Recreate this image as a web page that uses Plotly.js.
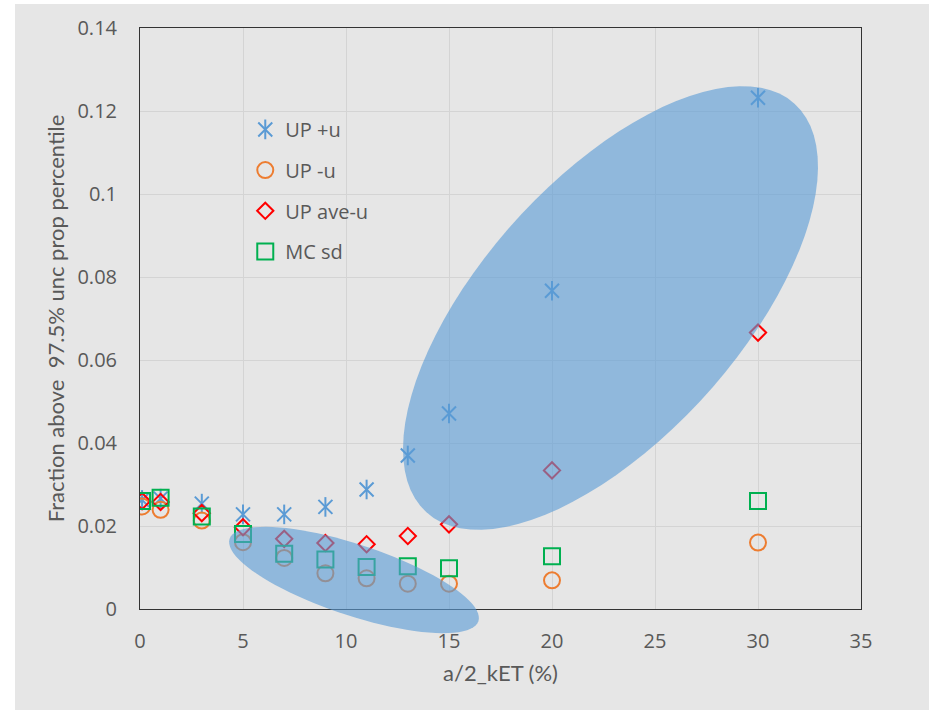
<!DOCTYPE html>
<html><head><meta charset="utf-8">
<script src="https://cdn.plot.ly/plotly-3.0.1.min.js"></script>
<style>html,body{margin:0;padding:0;background:#fff}</style>
</head><body><div id="chart" style="width:929px;height:710px"></div>
<script>
// ---- data ----
const xValues  = [0.1, 1, 3, 5, 7, 9, 11, 13, 15, 20, 30];
const upPlus   = [0.0263, 0.0266, 0.0254, 0.0228, 0.0228, 0.0246, 0.0288, 0.0370, 0.0471, 0.0767, 0.1232];
const upMinus  = [0.0247, 0.0239, 0.0213, 0.0161, 0.0123, 0.0086, 0.0074, 0.0061, 0.0061, 0.0069, 0.0160];
const upAve    = [0.0260, 0.0258, 0.0231, 0.0197, 0.0169, 0.0159, 0.0156, 0.0176, 0.0204, 0.0334, 0.0666];
const mcSd     = [0.0260, 0.0268, 0.0223, 0.0181, 0.0133, 0.0119, 0.0101, 0.0103, 0.0098, 0.0127, 0.0260];
const seriesNames = ['UP +u', 'UP -u', 'UP ave-u', 'MC sd'];
const xTickVals = [0, 5, 10, 15, 20, 25, 30, 35];
const xTickText = ['0', '5', '10', '15', '20', '25', '30', '35'];
const yTickVals = [0, 0.02, 0.04, 0.06, 0.08, 0.1, 0.12, 0.14];
const yTickText = ['0', '0.02', '0.04', '0.06', '0.08', '0.1', '0.12', '0.14'];

// ---- layout geometry ----
const W = 929, H = 710;
const M = {l: 140, r: 68, t: 28, b: 101};
const PW = W - M.l - M.r, PH = H - M.t - M.b;
function toPaper(px, py) { return [(px - M.l) / PW, (H - M.b - py) / PH]; }
// highlight ellipses (figure pixels: centre, semi-axes, tilt in degrees, screen orientation)
const ellipses = [
  {cx: 610.5, cy: 308, a: 275, b: 129, ang: -48},
  {cx: 354, cy: 580, a: 131, b: 35.5, ang: 18.3}
];
function ellipsePath(e) {
  const th = e.ang * Math.PI / 180, n = 90;
  let d = '';
  for (let i = 0; i < n; i++) {
    const t = 2 * Math.PI * i / n;
    const ex = e.a * Math.cos(t), ey = e.b * Math.sin(t);
    const px = e.cx + ex * Math.cos(th) - ey * Math.sin(th);
    const py = e.cy + ex * Math.sin(th) + ey * Math.cos(th);
    const p = toPaper(px, py);
    d += (i === 0 ? 'M' : 'L') + p[0].toFixed(5) + ',' + p[1].toFixed(5);
  }
  return d + 'Z';
}

const tickFont = {family: 'Open Sans, DejaVu Sans, sans-serif', size: 20, color: '#595959'};
const titleFont = {family: 'Lato, Open Sans, sans-serif', size: 22, color: '#595959'};

const starMarker = {size: 14, color: '#5B9BD5', line: {color: '#5B9BD5', width: 2}};
const traces = [
  {x: xValues, y: upPlus, name: seriesNames[0], mode: 'markers', legendgroup: 'g1',
   marker: Object.assign({symbol: 'x-thin-open'}, starMarker)},
  {x: xValues, y: upPlus, name: seriesNames[0], mode: 'markers', legend: 'legend2',
   marker: Object.assign({symbol: 'line-ns-open'}, starMarker)},
  {x: xValues, y: upMinus, name: seriesNames[1], mode: 'markers', legendgroup: 'g2',
   marker: {symbol: 'circle-open', size: 16, color: '#ED7D31', line: {color: '#ED7D31', width: 2}}},
  {x: xValues, y: upAve, name: seriesNames[2], mode: 'markers', legendgroup: 'g3',
   marker: {symbol: 'diamond-open', size: 12.5, color: '#FF0000', line: {color: '#FF0000', width: 2}}},
  {x: xValues, y: mcSd, name: seriesNames[3], mode: 'markers', legendgroup: 'g4',
   marker: {symbol: 'square-open', size: 16, color: '#00B050', line: {color: '#00B050', width: 2}}}
];

const legendPos = {x: 0.146, y: 0.859, xanchor: 'left', yanchor: 'top'};
const layout = {
  width: W, height: H, margin: M,
  paper_bgcolor: '#e6e6e6', plot_bgcolor: '#e6e6e6',
  showlegend: true,
  legend: Object.assign({font: {family: 'Open Sans, sans-serif', size: 20, color: '#595959'},
    bgcolor: 'rgba(0,0,0,0)', tracegroupgap: 11.7}, legendPos),
  legend2: Object.assign({font: {family: 'Open Sans, sans-serif', size: 20, color: 'rgba(0,0,0,0)'},
    bgcolor: 'rgba(0,0,0,0)'}, legendPos),
  xaxis: {range: [0, 35], tickvals: xTickVals, ticktext: xTickText, tickfont: tickFont,
    showgrid: true, gridcolor: '#d4d4d4', gridwidth: 1, zeroline: false,
    showline: true, mirror: true, linecolor: '#333333', linewidth: 1, ticks: '',
    ticklabelstandoff: 14,
    title: {text: 'a/2_kET (%)', font: titleFont, standoff: 12}},
  yaxis: {range: [0, 0.14], tickvals: yTickVals, ticktext: yTickText, tickfont: tickFont,
    showgrid: true, gridcolor: '#d4d4d4', gridwidth: 1, zeroline: false,
    showline: true, mirror: true, linecolor: '#333333', linewidth: 1, ticks: '',
    ticklabelstandoff: 18,
    title: {text: 'Fraction above  97.5% unc prop percentile', font: titleFont, standoff: 6}},
  shapes: [
    {type: 'rect', xref: 'paper', yref: 'paper', layer: 'below',
     x0: toPaper(0, 0)[0], x1: toPaper(15, 0)[0], y0: toPaper(0, H)[1], y1: toPaper(0, 0)[1],
     fillcolor: '#ffffff', line: {width: 0}},
    {type: 'rect', xref: 'paper', yref: 'paper', layer: 'below',
     x0: toPaper(0, 0)[0], x1: toPaper(W, 0)[0], y0: toPaper(0, 4)[1], y1: toPaper(0, 0)[1],
     fillcolor: '#ffffff', line: {width: 0}}
  ].concat(ellipses.map(e => ({type: 'path', xref: 'paper', yref: 'paper', layer: 'above',
     path: ellipsePath(e), fillcolor: '#5B9BD5', opacity: 0.62, line: {width: 0}})))
};

Plotly.newPlot('chart', traces, layout, {displayModeBar: false, staticPlot: true});
</script>
</body></html>
